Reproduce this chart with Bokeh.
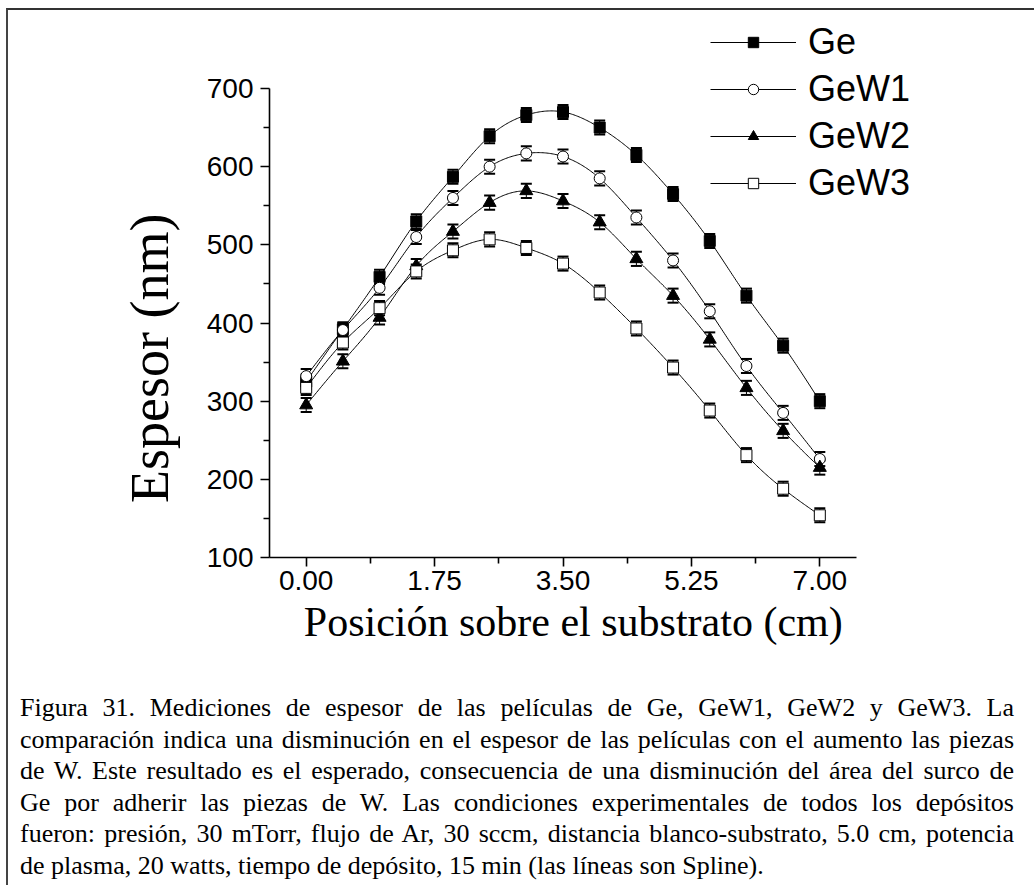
import numpy as np
from bokeh.plotting import figure
from bokeh.models import (Range1d, FixedTicker, Legend, LegendItem, Whisker, TeeHead,
                          ColumnDataSource, Div)
from bokeh.layouts import column
from bokeh.embed import file_html
from bokeh.resources import INLINE

# ---------------- data ----------------
positions = [0.0, 0.5, 1.0, 1.5, 2.0, 2.5, 3.0, 3.5, 4.0, 4.5, 5.0, 5.5, 6.0, 6.5, 7.0]
ge   = [325, 392, 459, 530, 587, 639, 666, 670, 650, 615, 565, 505, 435, 371, 300]
gew1 = [332, 391, 445, 510, 560, 600, 617, 613, 585, 535, 480, 415, 345, 285, 226]
gew2 = [295, 351, 407, 473, 517, 554, 569, 556, 529, 482, 435, 379, 317, 262, 215]
gew3 = [317, 375, 419, 466, 493, 507, 496, 476, 439, 393, 343, 288, 231, 188, 154]
error_nm = 9

series_names = ["Ge", "GeW1", "GeW2", "GeW3"]
x_ticks = [0.0, 1.75, 3.5, 5.25, 7.0]
x_tick_labels = ["0.00", "1.75", "3.50", "5.25", "7.00"]
x_minor = [0.875, 2.625, 4.375, 6.125]
y_ticks = [100, 200, 300, 400, 500, 600, 700]
y_minor = [150, 250, 350, 450, 550, 650]
x_axis_span = (-0.5, 7.5)
y_axis_span = (100, 700)
x_title = "Posición sobre el substrato (cm)"
y_title = "Espesor (nm)"

caption_lines = [
    "Figura 31. Mediciones de espesor de las películas de Ge, GeW1, GeW2 y GeW3. La",
    "comparación indica una disminución en el espesor de las películas con el aumento las piezas",
    "de W. Este resultado es el esperado, consecuencia de una disminución del área del surco de",
    "Ge por adherir las piezas de W. Las condiciones experimentales de todos los depósitos",
    "fueron: presión, 30 mTorr, flujo de Ar, 30 sccm, distancia blanco-substrato, 5.0 cm, potencia",
    "de plasma, 20 watts, tiempo de depósito, 15 min (las líneas son Spline).",
]


def natural_spline(x, y, n=400):
    x = np.asarray(x, float)
    y = np.asarray(y, float)
    h = np.diff(x)
    m = len(x)
    A = np.zeros((m, m))
    b = np.zeros(m)
    A[0, 0] = A[-1, -1] = 1.0
    for i in range(1, m - 1):
        A[i, i - 1] = h[i - 1]
        A[i, i] = 2 * (h[i - 1] + h[i])
        A[i, i + 1] = h[i]
        b[i] = 3 * ((y[i + 1] - y[i]) / h[i] - (y[i] - y[i - 1]) / h[i - 1])
    c = np.linalg.solve(A, b)
    bc = (y[1:] - y[:-1]) / h - h * (2 * c[:-1] + c[1:]) / 3
    d = (c[1:] - c[:-1]) / (3 * h)
    xs = np.linspace(x[0], x[-1], n)
    idx = np.clip(np.searchsorted(x, xs, side="right") - 1, 0, m - 2)
    dx = xs - x[idx]
    ys = y[idx] + bc[idx] * dx + c[idx] * dx ** 2 + d[idx] * dx ** 3
    return xs, ys


# Geometry: the axes occupy 587 x 469 px; the frame is extended up and to the
# right (axes limited with bounds) so that the legend is not clipped.
FIG_W, FIG_H = 1026, 660
LEFT, BOTTOM = 261, 113
AX_W, AX_H = 587, 469
frame_w = FIG_W - LEFT
frame_h = FIG_H - BOTTOM
x_end = x_axis_span[0] + (x_axis_span[1] - x_axis_span[0]) * frame_w / AX_W
y_end = y_axis_span[0] + (y_axis_span[1] - y_axis_span[0]) * frame_h / AX_H

p = figure(width=FIG_W, height=FIG_H,
           x_range=Range1d(x_axis_span[0], x_end), y_range=Range1d(y_axis_span[0], y_end),
           output_backend="svg", toolbar_location=None,
           min_border_left=LEFT, min_border_right=0,
           min_border_top=0, min_border_bottom=BOTTOM,
           background_fill_color="white", border_fill_color="white",
           outline_line_color=None)
p.grid.visible = False

for ax in (p.xaxis[0], p.yaxis[0]):
    ax.axis_line_color = "black"
    ax.axis_line_width = 1.6
    ax.major_tick_line_color = "black"
    ax.major_tick_line_width = 1.6
    ax.minor_tick_line_color = "black"
    ax.minor_tick_line_width = 1.6
    ax.major_tick_in = 0
    ax.major_tick_out = 9
    ax.minor_tick_in = 0
    ax.minor_tick_out = 6
    ax.major_label_text_font = "Liberation Sans"
    ax.major_label_text_font_size = "28px"
    ax.major_label_text_color = "black"
    ax.axis_label_text_font = "Liberation Serif"
    ax.axis_label_text_font_style = "normal"
    ax.axis_label_text_color = "black"

NBSP = "\u00a0"
p.xaxis.bounds = x_axis_span
p.xaxis.ticker = FixedTicker(ticks=x_ticks, minor_ticks=x_minor)
p.xaxis.major_label_overrides = {t: l for t, l in zip(x_ticks, x_tick_labels)}
p.xaxis.major_label_standoff = 4
# the axis title is centred on the (extended) frame; trailing no-break spaces
# move the visible text back under the axis
p.xaxis.axis_label = x_title + NBSP * 15
p.xaxis.axis_label_text_font_size = "42px"
p.xaxis.axis_label_standoff = 6

p.yaxis.bounds = y_axis_span
p.yaxis.ticker = FixedTicker(ticks=y_ticks, minor_ticks=y_minor)
p.yaxis.major_label_standoff = 7
p.yaxis.axis_label = y_title + NBSP * 11
p.yaxis.axis_label_text_font_size = "54px"
p.yaxis.axis_label_standoff = 24

markers = ["square", "circle", "triangle", "square"]
fills = ["black", "white", "black", "white"]
sizes = [11, 11, 13, 11]
all_y = [ge, gew1, gew2, gew3]

items = []
for name, ys, mk, fc, sz in zip(series_names, all_y, markers, fills, sizes):
    xs_f, ys_f = natural_spline(positions, ys)
    line_r = p.line(xs_f, ys_f, line_color="black", line_width=1)
    src = ColumnDataSource(dict(x=positions, y=ys,
                                upper=[v + error_nm for v in ys],
                                lower=[v - error_nm for v in ys]))
    wh = Whisker(source=src, base="x", upper="upper", lower="lower",
                 dimension="height", line_color="black", line_width=1,
                 upper_head=TeeHead(size=11, line_width=2, line_color="black"),
                 lower_head=TeeHead(size=11, line_width=2, line_color="black"),
                 level="underlay")
    p.add_layout(wh)
    sc_r = p.scatter("x", "y", source=src, marker=mk, size=sz,
                     fill_color=fc, line_color="black", line_width=1)
    items.append(LegendItem(label=name, renderers=[line_r, sc_r]))

legend = Legend(items=items, location=(441, 353),
                label_text_font="Liberation Sans", label_text_font_size="36px",
                label_text_color="black", label_standoff=12,
                glyph_width=86, glyph_height=26, spacing=5,
                padding=0, margin=0, border_line_color=None,
                background_fill_alpha=0)
p.add_layout(legend)

rows = []
for i, line in enumerate(caption_lines):
    if i < len(caption_lines) - 1:
        rows.append('<div style="text-align:justify;text-align-last:justify;white-space:nowrap;">'
                    + line + '</div>')
    else:
        rows.append('<div style="text-align:left;white-space:nowrap;">' + line + '</div>')
html = ('<div style="font-family:\'Liberation Serif\',serif;font-size:26px;line-height:31.6px;'
        'color:black;padding:22px 20px 0 12px;box-sizing:border-box;width:1026px;">'
        + "".join(rows) + '</div>')
div = Div(text=html, width=1026, height=215, margin=(0, 0, 0, 0))

layout = column(p, div, margin=(8, 0, 0, 6),
                styles={"border-top": "2px solid #333", "border-left": "2px solid #444"})

open("out.html", "w").write(file_html(layout, INLINE))
